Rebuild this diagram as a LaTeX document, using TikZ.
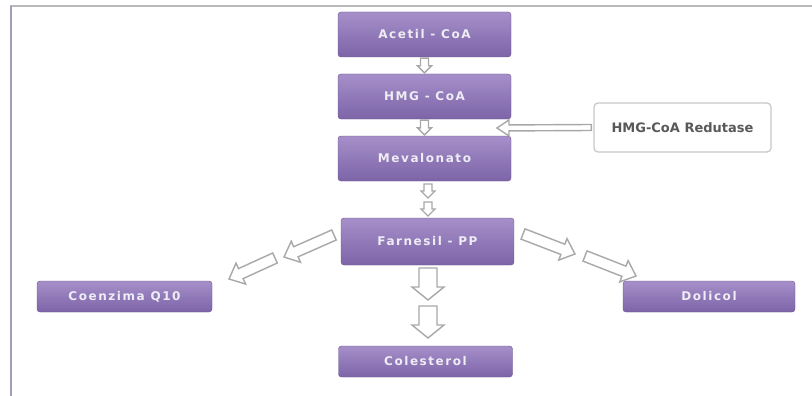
\documentclass[tikz,border=0pt]{standalone}
\usepackage{fontspec}
\setmainfont{DejaVu Sans}
\newfontfamily\boxfont{DejaVu Sans}[LetterSpace=13]
\usetikzlibrary{calc}
\definecolor{boxtop}{RGB}{166,143,201}
\definecolor{boxbot}{RGB}{124,100,168}
\definecolor{arrowline}{RGB}{168,168,168}
\definecolor{boxtext}{RGB}{238,236,244}
\definecolor{framel}{RGB}{160,158,186}
\definecolor{framet}{RGB}{185,185,185}
\tikzset{
 purplebox/.style={rectangle, rounded corners=3pt, top color=boxtop, bottom color=boxbot, draw=boxbot!85!black, line width=0.4pt, text=boxtext, font=\boxfont\bfseries\fontsize{12}{14}\selectfont, inner sep=0pt},
 enzbox/.style={rectangle, rounded corners=4pt, draw=black!22, line width=1.2pt, fill=white, text=black!65, font=\bfseries\fontsize{13}{15}\selectfont, inner sep=0pt},
 barrow/.style={draw=arrowline, fill=white, line width=1.4pt, line join=miter},
 frameline/.style={line width=2pt}
}
\newcommand\blockarrow[5]{%
 \coordinate (ba-c) at ($(#2)!#5!(#1)$);
 \draw[barrow] ($(#1)!#3!90:(#2)$) -- ($(ba-c)!#3!-90:(#1)$) -- ($(ba-c)!#4!-90:(#1)$) -- (#2) -- ($(ba-c)!#4!90:(#1)$) -- ($(ba-c)!#3!90:(#1)$) -- ($(#1)!#3!-90:(#2)$) -- cycle;}
\begin{document}
\begin{tikzpicture}[x=1pt,y=-1pt]
\useasboundingbox (0,0) rectangle (812,396);
\fill[white] (0,0) rectangle (812,396);
% frame
\draw[frameline, framet] (10,6) -- (812,6);
\draw[frameline, framel, line width=2.5pt] (11,6) -- (11,396);
% nodes
\node[purplebox, minimum width=173pt, minimum height=45pt] (acetil) at (424.5,34.5) {Acetil - CoA};
\node[purplebox, minimum width=173pt, minimum height=45pt] (hmg) at (424.5,96.5) {HMG - CoA};
\node[purplebox, minimum width=173pt, minimum height=45pt] (meval) at (424.5,158.5) {Mevalonato};
\node[purplebox, minimum width=173pt, minimum height=47pt] (farn) at (427.5,241.5) {Farnesil - PP};
\node[purplebox, minimum width=175pt, minimum height=31pt] (coenz) at (124.5,296.5) {Coenzima Q10};
\node[purplebox, minimum width=172pt, minimum height=31pt] (dolic) at (709,296.5) {Dolicol};
\node[purplebox, minimum width=174pt, minimum height=31pt] (colest) at (425.5,361.5) {Colesterol};
\node[enzbox, minimum width=177pt, minimum height=49pt] (redut) at (682.5,127.5) {HMG-CoA Redutase};
% coordinates
\coordinate (a1s) at ($(acetil.south)+(0,1)$);
\coordinate (a1e) at ($(hmg.north)+(0,-1)$);
\coordinate (a2s) at ($(hmg.south)+(0,1)$);
\coordinate (a2e) at ($(meval.north)+(0,-1)$);
\coordinate (m1a) at (428,184);
\coordinate (m1b) at (428,198);
\coordinate (m2a) at (428,202);
\coordinate (m2b) at (428,216);
\coordinate (rs) at ($(redut.west)+(-2,0)$);
\coordinate (re) at (497,128);
\coordinate (c1a) at (428,268);
\coordinate (c1b) at (428,300);
\coordinate (c2a) at (428,306);
\coordinate (c2b) at (428,338);
\coordinate (l1a) at (334,235);
\coordinate (l1b) at (284,257);
\coordinate (l2a) at (275,258);
\coordinate (l2b) at (229,279);
\coordinate (r1a) at (523,234);
\coordinate (r1b) at (575,254);
\coordinate (r2a) at (585,256);
\coordinate (r2b) at (636,276);
% arrows
\blockarrow{a1s}{a1e}{4pt}{7pt}{7pt}
\blockarrow{a2s}{a2e}{4pt}{7pt}{7pt}
\blockarrow{m1a}{m1b}{4pt}{7pt}{7pt}
\blockarrow{m2a}{m2b}{4pt}{7pt}{7pt}
\blockarrow{rs}{re}{3pt}{8pt}{12pt}
\blockarrow{c1a}{c1b}{9pt}{16pt}{13pt}
\blockarrow{c2a}{c2b}{9pt}{16pt}{13pt}
\blockarrow{l1a}{l1b}{5.5pt}{11.5pt}{13pt}
\blockarrow{l2a}{l2b}{5.5pt}{11.5pt}{13pt}
\blockarrow{r1a}{r1b}{5.5pt}{11.5pt}{13pt}
\blockarrow{r2a}{r2b}{5.5pt}{11.5pt}{13pt}
\end{tikzpicture}
\end{document}
